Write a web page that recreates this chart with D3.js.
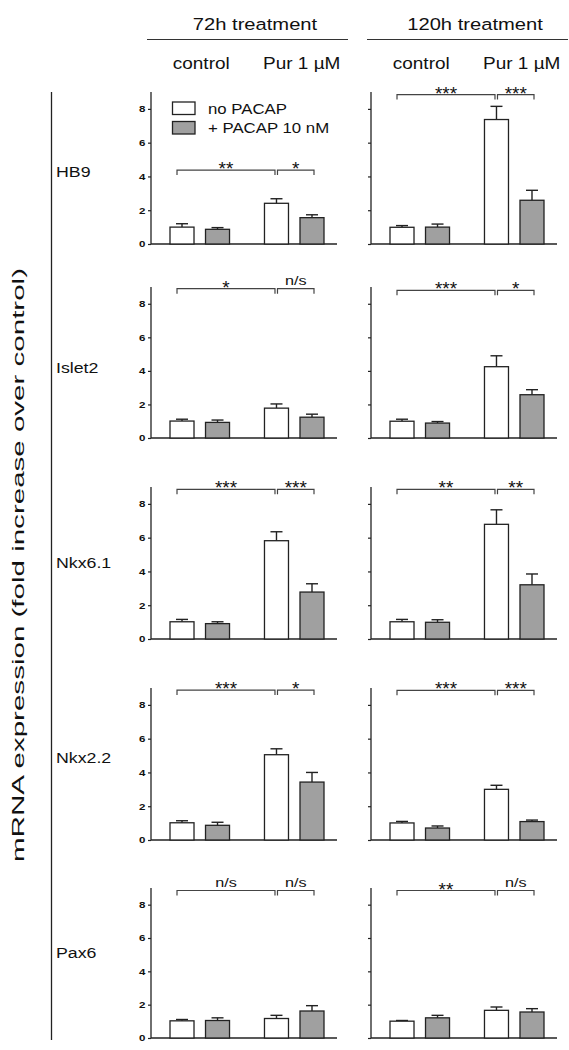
<!DOCTYPE html>
<html>
<head>
<meta charset="utf-8">
<script src="https://cdn.jsdelivr.net/npm/d3@7"></script>
<style>
  html, body { margin: 0; padding: 0; background: #fff; }
  text { font-family: "Liberation Sans", Arial, sans-serif; fill: #111; }
</style>
</head>
<body>
<svg id="chart" width="569" height="1050"></svg>
<script>
// ---------------- data ----------------
const genes = ["HB9", "Islet2", "Nkx6.1", "Nkx2.2", "Pax6"];
const treatments = ["72h treatment", "120h treatment"];
const conditions = ["control", "Pur 1 µM"];
const series = ["no PACAP", "+ PACAP 10 nM"];
const yTicks = [0, 2, 4, 6, 8];
const yLabel = "mRNA expression (fold increase over control)";

// order in each row: [control/no PACAP, control/+PACAP, Pur/no PACAP, Pur/+PACAP]
const mean72h = [
  [1.00, 0.87, 2.41, 1.56],
  [1.01, 0.93, 1.78, 1.24],
  [1.02, 0.91, 5.82, 2.78],
  [1.02, 0.87, 5.05, 3.43],
  [1.03, 1.05, 1.17, 1.62]
];
const sem72h = [
  [0.20, 0.10, 0.27, 0.17],
  [0.11, 0.14, 0.25, 0.18],
  [0.14, 0.11, 0.53, 0.49],
  [0.12, 0.18, 0.35, 0.57],
  [0.08, 0.16, 0.19, 0.32]
];
const mean120h = [
  [0.99, 1.00, 7.37, 2.59],
  [1.00, 0.89, 4.25, 2.58],
  [1.02, 0.99, 6.79, 3.21],
  [1.01, 0.71, 3.00, 1.09],
  [1.01, 1.21, 1.66, 1.56]
];
const sem120h = [
  [0.10, 0.18, 0.78, 0.59],
  [0.12, 0.09, 0.65, 0.30],
  [0.14, 0.15, 0.86, 0.64],
  [0.09, 0.12, 0.24, 0.09],
  [0.04, 0.15, 0.20, 0.20]
];
// significance: [control vs Pur (no PACAP), Pur no PACAP vs Pur + PACAP]
const sig72h = [["**", "*"], ["*", "n/s"], ["***", "***"], ["***", "*"], ["n/s", "n/s"]];
const sig120h = [["***", "***"], ["***", "*"], ["**", "**"], ["***", "***"], ["**", "n/s"]];
// bracket level (in fold units)
const bracket72h = [4.38, 8.9, 8.86, 8.88, 8.85];
const bracket120h = [8.85, 8.8, 8.86, 8.86, 8.85];

// ---------------- layout ----------------
const SX = 1.2;                        // horizontal stretch of the lettering
const rowTop = [92, 287, 487, 688, 888];
const rowBase = [244, 438, 639, 840, 1038];
const colAxisX = [151, 371];
const panelW = 186;
const labelY = [171, 367, 562, 757, 952];

const svg = d3.select("#chart");
svg.append("rect").attr("width", 569).attr("height", 1050).attr("fill", "#fff");

function txt(g, x, y, str, size, anchor, weight, sx) {
  return g.append("text")
    .attr("transform", `translate(${x},${y}) scale(${sx || SX},1)`)
    .attr("text-anchor", anchor || "start")
    .style("font-size", size + "px")
    .style("font-weight", weight || "normal")
    .text(str);
}

const xGroup = d3.scaleBand().domain(conditions).range([19, 173]).paddingInner(0.37);
const xInner = d3.scaleBand().domain(series).range([0, xGroup.bandwidth()]).paddingInner(0.324);
const barKeys = [];
conditions.forEach(c => series.forEach(s => barKeys.push({ c, s })));
const barX = k => xGroup(k.c) + xInner(k.s);
const barC = k => barX(k) + xInner.bandwidth() / 2;

const means = [mean72h, mean120h];
const sems = [sem72h, sem120h];
const sigs = [sig72h, sig120h];
const brackets = [bracket72h, bracket120h];
const fills = { "no PACAP": "#ffffff", "+ PACAP 10 nM": "#a0a0a0" };
const ink = "#222";

// ---------------- headers ----------------
treatments.forEach((t, ci) => {
  const ax = colAxisX[ci];
  const g = svg.append("g");
  txt(g, ax + 104, 29.5, t, 16.8, "middle");
  g.append("line").attr("x1", ax - 4).attr("x2", ax + 197).attr("y1", 39.5).attr("y2", 39.5)
    .attr("stroke", "#333").attr("stroke-width", 1.2);
  conditions.forEach((c, i) => {
    txt(g, ax + xGroup(c) + xGroup.bandwidth() / 2 + (i === 0 ? 1.5 : 7.5), 69, c, 15.8, "middle");
  });
});

// ---------------- left label ----------------
svg.append("line").attr("x1", 51.5).attr("x2", 51.5).attr("y1", 92).attr("y2", 1040)
  .attr("stroke", "#222").attr("stroke-width", 1.3);
svg.append("text")
  .attr("transform", "translate(24,565) rotate(-90) scale(1,0.78)")
  .attr("text-anchor", "middle")
  .attr("textLength", 594).attr("lengthAdjust", "spacingAndGlyphs")
  .style("font-size", "20px")
  .text(yLabel);

genes.forEach((gname, ri) => {
  txt(svg, 56, labelY[ri] + 5.5, gname, 14.8, "start");
});

// ---------------- panels ----------------
genes.forEach((gname, ri) => {
  treatments.forEach((t, ci) => {
    const ax = colAxisX[ci];
    const y = d3.scaleLinear().domain([0, 9]).range([rowBase[ri], rowTop[ri]]);
    const g = svg.append("g").attr("transform", `translate(${ax},0)`);

    // y axis
    const yAxis = d3.axisLeft(y).tickValues(yTicks).tickSize(3).tickFormat(ci === 0 ? d3.format("d") : "");
    const ag = g.append("g").call(yAxis);
    ag.select(".domain").remove();
    ag.selectAll(".tick line").attr("stroke", ink).attr("stroke-width", 1.2);
    ag.selectAll(".tick text").remove();
    if (ci === 0) {
      yTicks.forEach(v => {
        txt(g, -5.5, y(v) + 3.4, String(v), 9.6, "end", "bold");
      });
    }
    g.append("line").attr("x1", 0).attr("x2", 0).attr("y1", rowTop[ri]).attr("y2", rowBase[ri])
      .attr("stroke", ink).attr("stroke-width", 1.3);
    g.append("line").attr("x1", 0).attr("x2", panelW).attr("y1", rowBase[ri]).attr("y2", rowBase[ri])
      .attr("stroke", ink).attr("stroke-width", 1.3);

    const m = means[ci][ri], e = sems[ci][ri];
    // error bars (upward)
    barKeys.forEach((k, i) => {
      const cx = barC(k);
      g.append("line").attr("x1", cx).attr("x2", cx).attr("y1", y(m[i])).attr("y2", y(m[i] + e[i]))
        .attr("stroke", ink).attr("stroke-width", 1.4);
      g.append("line").attr("x1", cx - 6).attr("x2", cx + 6).attr("y1", y(m[i] + e[i])).attr("y2", y(m[i] + e[i]))
        .attr("stroke", ink).attr("stroke-width", 1.4);
    });
    // bars
    g.selectAll("rect.bar").data(barKeys).enter().append("rect")
      .attr("class", "bar")
      .attr("x", k => barX(k))
      .attr("width", xInner.bandwidth())
      .attr("y", (k, i) => y(m[i]))
      .attr("height", (k, i) => rowBase[ri] - y(m[i]))
      .attr("fill", k => fills[k.s])
      .attr("stroke", ink).attr("stroke-width", 1.3);

    // significance brackets
    const by = y(brackets[ci][ri]);
    const spans = [
      [barC(barKeys[0]) - 5, barC(barKeys[2]) - 1.5],
      [barC(barKeys[2]) + 1, barC(barKeys[3]) + 2]
    ];
    spans.forEach((sp, si) => {
      g.append("path")
        .attr("d", `M${sp[0]},${by + 5}V${by}H${sp[1]}V${by + 5}`)
        .attr("fill", "none").attr("stroke", "#444").attr("stroke-width", 1.2);
      const lab = sigs[ci][ri][si];
      const isStar = lab.indexOf("*") >= 0;
      if (isStar) {
        txt(g, (sp[0] + sp[1]) / 2, by + 5, lab, 19, "middle", "normal", 1.0);
      } else {
        txt(g, (sp[0] + sp[1]) / 2, by - 3.5, lab, 13.5, "middle");
      }
    });
  });
});

// ---------------- legend ----------------
const lg = svg.append("g").attr("transform", `translate(${colAxisX[0]},0)`);
series.forEach((s, i) => {
  const ly = 102 + i * 19.5;
  lg.append("rect").attr("x", 21.5).attr("y", ly).attr("width", 22.5).attr("height", 12.5)
    .attr("fill", fills[s]).attr("stroke", ink).attr("stroke-width", 1.3);
  txt(lg, 57, ly + 11.5, s, 14, "start");
});
</script>
</body>
</html>
